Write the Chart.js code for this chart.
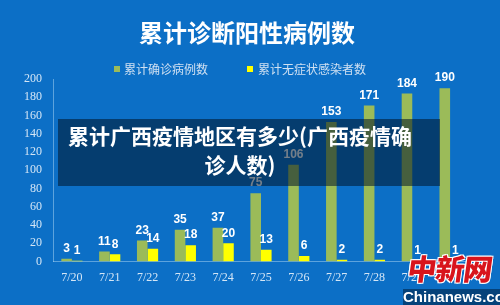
<!DOCTYPE html>
<html>
<head>
<meta charset="utf-8">
<script src="https://cdn.jsdelivr.net/npm/chart.js@4/dist/chart.umd.min.js"></script>
<style>
  html, body { margin: 0; padding: 0; }
  body { width: 500px; height: 305px; overflow: hidden; background: #0c6fc6; position: relative; font-family: "Noto Sans CJK SC", sans-serif; }
  #wrap { position: absolute; left: 0; top: 0; width: 500px; height: 305px; }
  .title { position: absolute; left: 0; width: 494px; top: 16px; text-align: center; color: #fff; font-size: 24px; font-weight: bold; line-height: 32px; }
  .leg { position: absolute; top: 61px; font-size: 12px; line-height: 16px; color: #cfe0f2; }
  .leg i { position: absolute; top: 5px; width: 6px; height: 6px; }
  .band { position: absolute; left: 58px; top: 119px; width: 382px; height: 67px; background: rgba(0, 20, 40, 0.55); }
  .band div { position: absolute; left: -9px; width: 382px; top: 2px; text-align: center; color: #fff; font-size: 21px; font-weight: bold; line-height: 29px; }
  .mark { position: absolute; left: 408px; top: 246px; color: #d8141c; font-size: 29px; font-weight: 900; letter-spacing: -1px; transform: skewX(-8deg); text-shadow: 1px 1px 0 #fff, -1px -1px 0 #fff, 1px -1px 0 #fff, -1px 1px 0 #fff; }
  .site { position: absolute; left: 403px; top: 289px; width: 97px; height: 16px; background: rgba(0, 30, 60, 0.55); color: #fff; font-family: "Liberation Sans Narrow", sans-serif; font-weight: bold; font-size: 15px; line-height: 16px; text-align: center; }
</style>
</head>
<body>
<div id="wrap"><canvas id="casesChart" width="500" height="305"></canvas></div>
<div class="title">累计诊断阳性病例数</div>
<div class="leg" style="left:114px;"><i style="left:0;background:#9bbb59;"></i><span style="margin-left:10px;">累计确诊病例数</span></div>
<div class="leg" style="left:247px;"><i style="left:0;background:#ffff00;"></i><span style="margin-left:11px;">累计无症状感染者数</span></div>
<div class="band"><div>累计广西疫情地区有多少(广西疫情确<br>诊人数)</div></div>
<div class="mark">中新网</div>
<div class="site">Chinanews.com</div>
<script>
const dates = ['7/20', '7/21', '7/22', '7/23', '7/24', '7/25', '7/26', '7/27', '7/28', '7/29', '7/30'];
const confirmed = [3, 11, 23, 35, 37, 75, 106, 153, 171, 184, 190];
const asymptomatic = [1, 8, 14, 18, 20, 13, 6, 2, 2, 1, 1];
const yTicks = [0, 20, 40, 60, 80, 100, 120, 140, 160, 180, 200];

// numbers above each bar
const barLabels = {
    id: 'barLabels',
    afterDatasetsDraw(chart) {
        const c = chart.ctx;
        c.save();
        c.fillStyle = '#ffffff';
        c.font = 'bold 12px "Liberation Sans Narrow", sans-serif';
        c.textAlign = 'center';
        c.textBaseline = 'bottom';
        chart.data.datasets.forEach((ds, i) => {
            chart.getDatasetMeta(i).data.forEach((bar, j) => {
                c.fillText(ds.data[j], bar.x, bar.y - 4);
            });
        });
        c.restore();
    }
};

const ctx = document.getElementById('casesChart').getContext('2d');
const casesChart = new Chart(ctx, {
    type: 'bar',
    data: {
        labels: dates,
        datasets: [{
            label: '累计确诊病例数',
            data: confirmed,
            backgroundColor: '#9bbb59',
            categoryPercentage: 0.56,
            barPercentage: 1
        }, {
            label: '累计无症状感染者数',
            data: asymptomatic,
            backgroundColor: '#ffff00',
            categoryPercentage: 0.56,
            barPercentage: 1
        }]
    },
    options: {
        responsive: false,
        animation: false,
        layout: {
            padding: { top: 79, left: 13, right: 31, bottom: 11 }
        },
        plugins: {
            legend: { display: false },
            tooltip: { enabled: false }
        },
        scales: {
            x: {
                grid: { display: false, drawTicks: false, tickLength: 0 },
                border: { display: true, color: 'rgba(160, 205, 240, 0.55)' },
                ticks: {
                    color: '#d4e6f6',
                    padding: 9,
                    autoSkip: false,
                    font: { family: '"Liberation Serif", serif', size: 12 }
                }
            },
            y: {
                min: 0,
                max: 200,
                afterBuildTicks(axis) {
                    axis.ticks = yTicks.map(v => ({ value: v }));
                },
                grid: { display: false, drawTicks: false, tickLength: 0 },
                border: { display: true, color: 'rgba(160, 205, 240, 0.55)' },
                ticks: {
                    color: '#d4e6f6',
                    padding: 11,
                    autoSkip: false,
                    font: { family: '"Liberation Serif", serif', size: 12 }
                }
            }
        }
    },
    plugins: [barLabels]
});
</script>
</body>
</html>
